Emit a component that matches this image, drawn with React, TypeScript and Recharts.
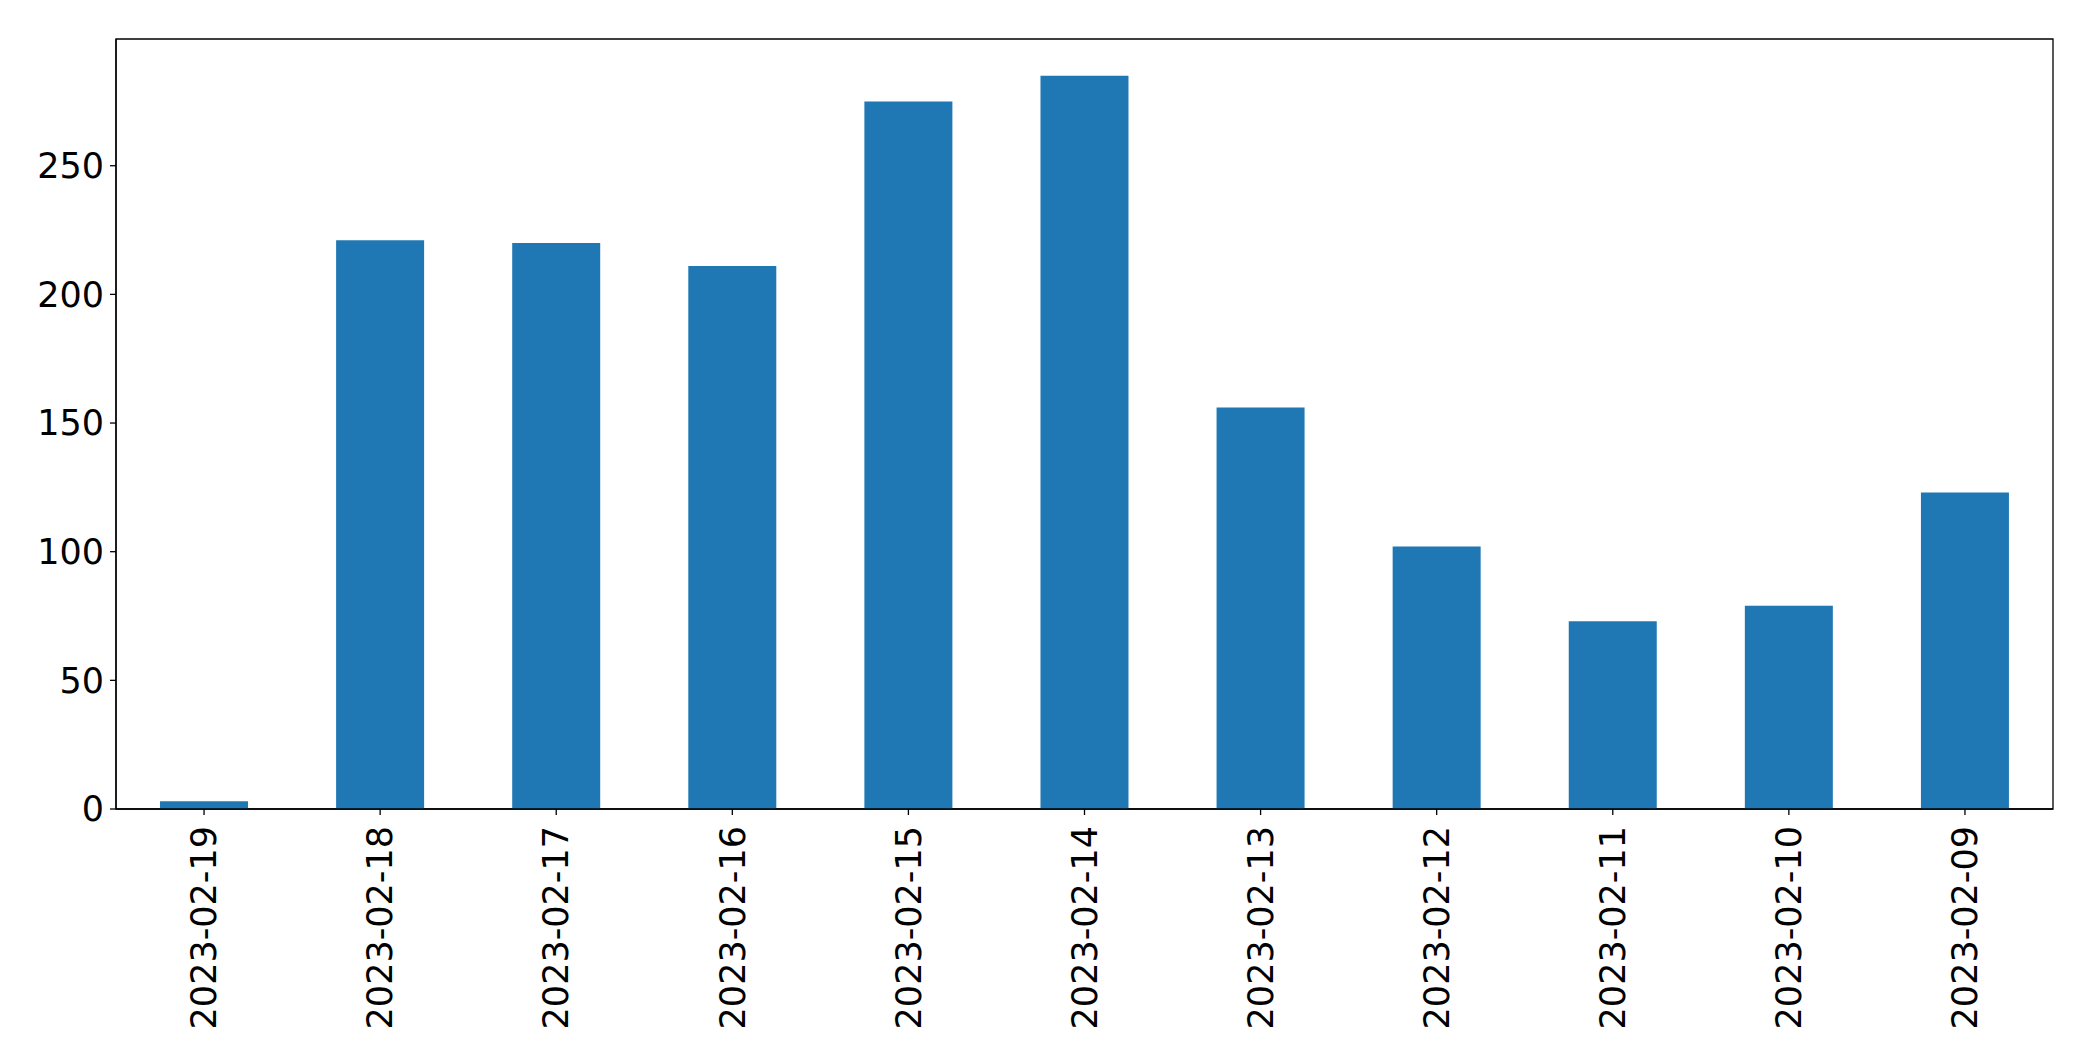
import React from 'react';
import { BarChart, Bar, XAxis, YAxis, ReferenceArea } from 'recharts';

const dates = [
  '2023-02-19', '2023-02-18', '2023-02-17', '2023-02-16', '2023-02-15', '2023-02-14',
  '2023-02-13', '2023-02-12', '2023-02-11', '2023-02-10', '2023-02-09',
];
const counts = [3, 221, 220, 211, 275, 285, 156, 102, 73, 79, 123];
const yTicks = [0, 50, 100, 150, 200, 250];
const yMax = 299.25;

const data = dates.map((d, i) => ({ date: d, count: counts[i] }));

const FONT = '"DejaVu Sans", sans-serif';

const RotatedTick = (props: any) => {
  const { x, y, payload } = props;
  return (
    <g transform={`translate(${x},${y})`}>
      <text
        x={0}
        y={0}
        dy="0.35em"
        textAnchor="end"
        transform="rotate(-90)"
        fill="#000"
        fontSize={35}
        fontFamily={FONT}
      >
        {payload.value}
      </text>
    </g>
  );
};

const App: React.FC = () => {
  return (
    <div style={{ width: 2077, height: 1040 }}>
      <BarChart
        width={2077}
        height={1040}
        data={data}
        margin={{ top: 31, right: 32, bottom: 0, left: 0 }}
        barCategoryGap="25%"
      >
        <XAxis
          dataKey="date"
          height={239}
          interval={0}
          tick={<RotatedTick />}
          tickSize={6}
          tickMargin={11}
          axisLine={{ stroke: '#000', strokeWidth: 1.3 }}
          tickLine={{ stroke: '#000', strokeWidth: 1.3 }}
        />
        <YAxis
          width={108}
          domain={[0, yMax]}
          ticks={yTicks}
          tickSize={6}
          tickMargin={6}
          tick={{ fill: '#000', fontSize: 35, fontFamily: FONT }}
          axisLine={{ stroke: '#000', strokeWidth: 1.3 }}
          tickLine={{ stroke: '#000', strokeWidth: 1.3 }}
        />
        <Bar dataKey="count" fill="#1f77b4" isAnimationActive={false} />
        {/* axes frame */}
        <ReferenceArea
          y1={0}
          y2={yMax}
          fill="none"
          fillOpacity={0}
          stroke="#000"
          strokeWidth={1.3}
          strokeOpacity={1}
        />
      </BarChart>
    </div>
  );
};

export default App;
